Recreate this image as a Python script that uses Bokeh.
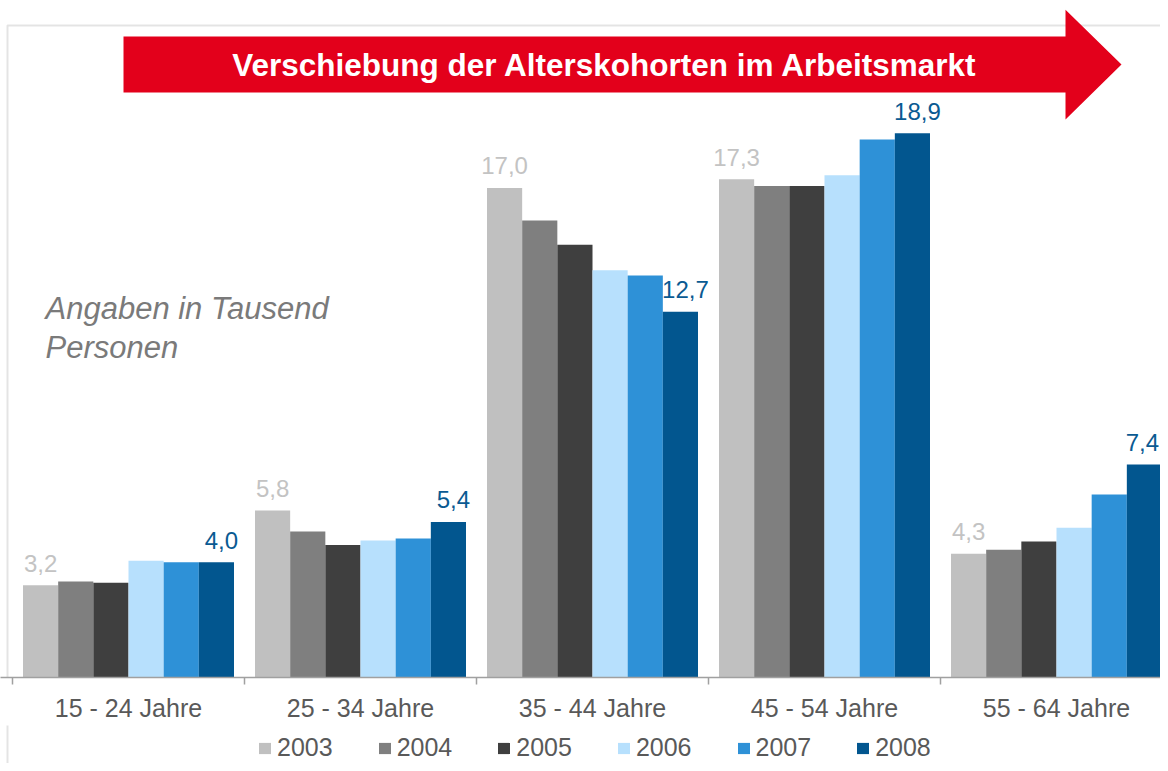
from bokeh.plotting import figure
from bokeh.layouts import column
from bokeh.models import (ColumnDataSource, FixedTicker, Legend, LegendItem,
                          BoxAnnotation, PolyAnnotation, Label, Range1d)
from bokeh.embed import file_html
from bokeh.resources import INLINE
from bokeh.core.properties import value

# ---------------- data ----------------
categories = ["15 - 24 Jahre", "25 - 34 Jahre", "35 - 44 Jahre", "45 - 54 Jahre", "55 - 64 Jahre"]
years = ["2003", "2004", "2005", "2006", "2007", "2008"]
v2003 = [3.2, 5.8, 17.0, 17.3, 4.3]
v2004 = [3.33, 5.07, 15.87, 17.07, 4.44]
v2005 = [3.29, 4.60, 15.03, 17.07, 4.72]
v2006 = [4.05, 4.76, 14.14, 17.44, 5.20]
v2007 = [4.00, 4.83, 13.96, 18.68, 6.35]
v2008 = [4.0, 5.4, 12.7, 18.9, 7.4]
series = [v2003, v2004, v2005, v2006, v2007, v2008]
labelled_years = ["2003", "2008"]

title_text = "Verschiebung der Alterskohorten im Arbeitsmarkt"
note_lines = ["Angaben in Tausend", "Personen"]

# ---------------- styles ----------------
colors = ["#c0c0c0", "#7f7f7f", "#3f3f3f", "#b7e0fd", "#2e91d7", "#02568f"]
label_colors = {"2003": "#c3c3c3", "2008": "#0a5a92"}
FONT = "Liberation Sans"
TEXT_GRAY = "#595959"
W = 1160
H_MAIN, H_LEG = 725, 38
PX_PER_CAT = 232.0
PX_PER_UNIT = 28.8
FRAME_H = 677
X0 = -12.0 / PX_PER_CAT
group_frac = 0.9095
bw = group_frac / len(years)

p = figure(width=W, height=H_MAIN, output_backend="svg", toolbar_location=None,
           x_range=Range1d(X0, X0 + W / PX_PER_CAT),
           y_range=Range1d(0, FRAME_H / PX_PER_UNIT),
           y_axis_location=None, x_axis_location="below",
           min_border_left=0, min_border_right=0, min_border_top=0,
           min_border_bottom=H_MAIN - FRAME_H)
p.outline_line_color = None
p.grid.visible = False
p.background_fill_color = "white"
p.border_fill_color = "white"

n = len(categories)
for j, (yr, vals) in enumerate(zip(years, series)):
    xs = [i + 0.5 + (j - (len(years) - 1) / 2) * bw for i in range(n)]
    # small right shift of the last series' labels, kept inside the right edge
    xo = [5] * (n - 1) + [-2] if yr == "2008" else [0] * n
    src = ColumnDataSource(dict(x=xs, top=vals, xo=xo,
                                lab=[f"{v:.1f}".replace(".", ",") for v in vals]))
    p.vbar(x="x", top="top", width=bw, source=src, fill_color=colors[j], line_color=None)
    if yr in labelled_years:
        p.text(x="x", y="top", text="lab", source=src, text_align="center",
               text_baseline="alphabetic", y_offset=-22, x_offset="xo",
               text_font=value(FONT), text_font_size="24px",
               text_color=label_colors[yr])

ax = p.xaxis[0]
centers = [i + 0.5 for i in range(n)]
ax.ticker = FixedTicker(ticks=centers, minor_ticks=list(range(n + 1)))
ax.major_label_overrides = {c: name for c, name in zip(centers, categories)}
ax.major_tick_out = 0
ax.major_tick_in = 0
ax.minor_tick_out = 7
ax.minor_tick_in = 0
ax.axis_line_color = "#a0a0a0"
ax.axis_line_width = 1.5
ax.minor_tick_line_color = "#a0a0a0"
ax.minor_tick_line_width = 1.5
ax.major_label_text_font = FONT
ax.major_label_text_font_size = "25px"
ax.major_label_text_color = TEXT_GRAY
ax.major_label_standoff = 9

# chart border (top and left edges)
p.add_layout(BoxAnnotation(left=7, right=W + 50, top=25, bottom=H_MAIN + 50,
                           left_units="canvas", right_units="canvas",
                           top_units="canvas", bottom_units="canvas",
                           fill_alpha=0, line_color="#a6a6a6", line_width=2))

# red arrow
p.add_layout(PolyAnnotation(xs=[123, 1065, 1065, 1121, 1065, 1065, 123],
                            ys=[36, 36, 9.3, 64, 119, 92, 92],
                            xs_units="canvas", ys_units="canvas",
                            fill_color="#e3001b", fill_alpha=1, line_color=None))
p.add_layout(Label(x=604.5, y=64, x_units="canvas", y_units="canvas", text=title_text,
                   text_font=FONT, text_font_style="bold", text_font_size="31.5px",
                   text_color="white", text_align="center", text_baseline="alphabetic"))

for k, line in enumerate(note_lines):
    p.add_layout(Label(x=45, y=308 + 39 * k, x_units="canvas", y_units="canvas", text=line,
                       text_font=FONT, text_font_style="italic", text_font_size="31px",
                       text_color="#7a7a7a", text_align="left", text_baseline="alphabetic"))

# ---------------- legend strip ----------------
pl = figure(width=W, height=H_LEG, output_backend="svg", toolbar_location=None,
            x_range=Range1d(0, 1), y_range=Range1d(0, 1),
            x_axis_location=None, y_axis_location=None,
            min_border_left=0, min_border_right=0, min_border_top=0, min_border_bottom=0)
pl.outline_line_color = None
pl.grid.visible = False
pl.border_fill_color = "white"
# zero-height bars: they only supply the legend swatches
swatches = [pl.vbar(x=[0.5], top=[0], bottom=[0], width=0.01, fill_color=c, line_color=None)
            for c in colors]
legend = Legend(items=[LegendItem(label=yr, renderers=[r]) for yr, r in zip(years, swatches)],
                orientation="horizontal", location=(257, 1),
                glyph_width=15, glyph_height=14, label_standoff=5, spacing=44,
                label_text_font=FONT, label_text_font_size="25px",
                label_text_color=TEXT_GRAY, border_line_color=None,
                background_fill_alpha=0, padding=0, margin=0)
pl.add_layout(legend, "center")
# left edge of the chart border continues through the legend strip
pl.add_layout(BoxAnnotation(left=7, right=W + 50, top=-50, bottom=H_LEG + 50,
                            left_units="canvas", right_units="canvas",
                            top_units="canvas", bottom_units="canvas",
                            fill_alpha=0, line_color="#a6a6a6", line_width=2))

layout = column(p, pl, spacing=0)
open("out.html", "w").write(file_html(layout, INLINE))
